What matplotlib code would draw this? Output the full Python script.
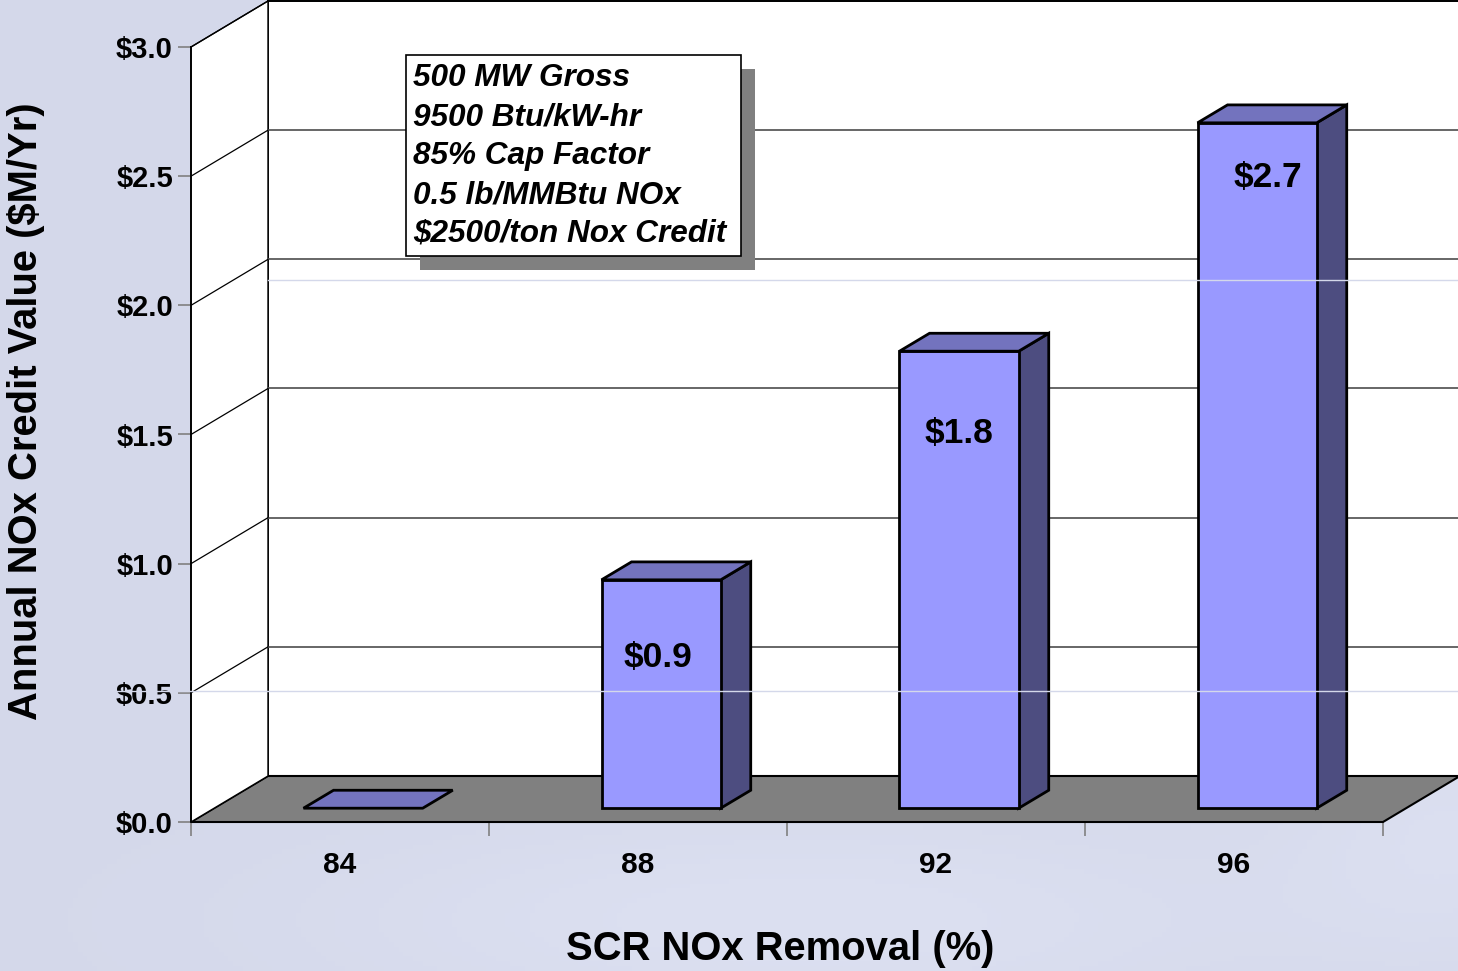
import numpy as np
import matplotlib.pyplot as plt
from matplotlib.patches import Polygon, Rectangle
from matplotlib.lines import Line2D
from matplotlib.ticker import FuncFormatter

plt.rcParams["font.family"] = ["Liberation Sans", "DejaVu Sans"]
plt.rcParams["font.weight"] = "bold"

# ---- data -------------------------------------------------------------
categories = ["84", "88", "92", "96"]                 # SCR NOx removal (%)
credit_value = [0.0, 0.884, 1.769, 2.653]             # annual credit, $M/yr
y_ticks = [0.0, 0.5, 1.0, 1.5, 2.0, 2.5, 3.0]
note_lines = ["500 MW Gross", "9500 Btu/kW-hr", "85% Cap Factor",
              "0.5 lb/MMBtu NOx", "$2500/ton Nox Credit"]

# ---- layout / style ---------------------------------------------------
W, H = 1458, 971
BG = "#D4D8EA"
FRONT, TOP, SIDE = "#9999FF", "#7373BE", "#4D4D80"
FLOOR = "#808080"

fig = plt.figure(figsize=(W / 100, H / 100), dpi=100)
fig.patch.set_facecolor(BG)

# soft background shading
bg = fig.add_axes([0, 0, 1, 1], zorder=-5)
yy, xx = np.mgrid[0:1:200j, 0:1:300j]
glow = np.exp(-(((xx - 0.55) / 0.35) ** 2 + ((yy - 0.95) / 0.12) ** 2))
glow += 0.8 * np.exp(-(((xx - 1.0) / 0.12) ** 2 + ((yy - 0.85) / 0.15) ** 2))
base = np.array([212, 216, 234]) / 255
light = np.array([220, 224, 241]) / 255
img = base + np.clip(glow, 0, 1)[..., None] * (light - base)
bg.imshow(img, extent=[0, 1, 1, 0], aspect="auto")
bg.set_xlim(0, 1)
bg.set_ylim(1, 0)
bg.axis("off")

ax = fig.add_axes([191 / W, (H - 822) / H, (1383 - 191) / W, (822 - 47) / H])
ax.set_xlim(0, len(categories))
ax.set_ylim(0, 3.0)
ax.patch.set_visible(False)

# oblique depth offset (category units, value units)
DX = 77 / 298
DY = 46 / (775 / 3.0)


def P(x, y, d):
    return (x + d * DX, y + d * DY)


n = len(categories)
ymax = y_ticks[-1]

# back wall
ax.add_patch(Polygon([P(0, 0, 1), P(n, 0, 1), P(n, ymax, 1), P(0, ymax, 1)],
                     closed=True, fc="white", ec="black", lw=1.3,
                     clip_on=False, zorder=1))
# floor
ax.add_patch(Polygon([P(0, 0, 0), P(n, 0, 0), P(n, 0, 1), P(0, 0, 1)],
                     closed=True, fc=FLOOR, ec="black", lw=1.5,
                     clip_on=False, zorder=2))
# side wall
ax.add_patch(Polygon([P(0, 0, 0), P(0, ymax, 0), P(0, ymax, 1), P(0, 0, 1)],
                     closed=True, fc="white", ec="black", lw=1.0,
                     clip_on=False, zorder=2))

# gridlines on back wall and side wall
for v in y_ticks[1:]:
    x0, y0 = P(0, v, 1)
    x1, y1 = P(n, v, 1)
    ax.plot([x0, x1], [y0, y1], color="#5A5A5A" if v < ymax else "black",
            lw=1.3, clip_on=False, zorder=2)
    fx, fy = P(0, v, 0)
    ax.plot([fx, x0], [fy, y0], color="black", lw=0.9, clip_on=False, zorder=2)

# bars
BW = 0.40
D0, D1 = 0.30, 0.69
label_drop = [0.30, 0.30, 0.32, 0.21]
label_shift = [0.0, -0.01, 0.0, 0.035]
for i, v in enumerate(credit_value):
    xl, xr = i + 0.5 - BW / 2, i + 0.5 + BW / 2
    kw = dict(closed=True, ec="black", lw=2.0, joinstyle="miter",
              clip_on=False, zorder=4)
    if v > 0:
        ax.add_patch(Polygon([P(xr, 0, D0), P(xr, 0, D1), P(xr, v, D1), P(xr, v, D0)],
                             fc=SIDE, **kw))
        ax.add_patch(Polygon([P(xl, 0, D0), P(xr, 0, D0), P(xr, v, D0), P(xl, v, D0)],
                             fc=FRONT, **kw))
    ax.add_patch(Polygon([P(xl, v, D0), P(xr, v, D0), P(xr, v, D1), P(xl, v, D1)],
                         fc=TOP, **kw))
    if v > 0:
        cx, cy = P(i + 0.5, v, D0)
        ax.text(cx + label_shift[i], cy - label_drop[i], f"${v:.1f}",
                ha="center", va="center", fontsize=25.5, fontweight="bold",
                zorder=6)

# axes, ticks
for s in ["top", "right", "bottom"]:
    ax.spines[s].set_visible(False)
ax.spines["left"].set_color("black")
ax.spines["left"].set_linewidth(1.3)
ax.spines["left"].set_zorder(5)

ax.set_yticks(y_ticks)
ax.yaxis.set_major_formatter(FuncFormatter(lambda v, _: f"${v:.1f}"))
ax.tick_params(axis="y", direction="out", length=9.4, width=1.2, color="#808080",
               labelsize=21, pad=3.6)

ax.set_xticks(np.arange(n + 1))
ax.set_xticklabels([])
ax.set_xticks(np.arange(n) + 0.5, minor=True)
ax.set_xticklabels(categories, minor=True)
ax.tick_params(axis="x", which="major", direction="out", length=10, width=1.2,
               color="#808080")
ax.tick_params(axis="x", which="minor", length=0, labelsize=21.5, pad=21)

# axis titles
fig.text(26 / W, 1 - 411 / H, "Annual NOx Credit Value ($M/Yr)", rotation=90,
         ha="center", va="center", fontsize=28.8, fontweight="bold")
fig.text(780 / W, 1 - 949 / H, "SCR NOx Removal (%)", ha="center", va="center",
         fontsize=28.8, fontweight="bold")

# assumptions box with drop shadow
bx0, by0, bx1, by1 = 406, 55, 741, 256
sh = 14
fig.add_artist(Rectangle(((bx0 + sh) / W, 1 - (by1 + sh) / H), (bx1 - bx0) / W,
                         (by1 - by0) / H, transform=fig.transFigure,
                         fc="#808080", ec="none", zorder=7))
fig.add_artist(Rectangle((bx0 / W, 1 - by1 / H), (bx1 - bx0) / W, (by1 - by0) / H,
                         transform=fig.transFigure, fc="white", ec="black",
                         lw=1.2, zorder=8))
for k, line in enumerate(note_lines):
    fig.text(413 / W, 1 - (78 + 39 * k) / H, line, ha="left", va="center",
             fontsize=22.7, fontweight="bold", fontstyle="italic", zorder=9)

# faint banding lines across the slide
for yline, xstart in [(280, 268), (691, 0)]:
    fig.add_artist(Line2D([xstart / W, 1], [1 - yline / H] * 2,
                          transform=fig.transFigure, color="#D4D8EA", lw=1.0,
                          zorder=10))

fig.savefig("out.png", dpi=100, facecolor=fig.get_facecolor())
